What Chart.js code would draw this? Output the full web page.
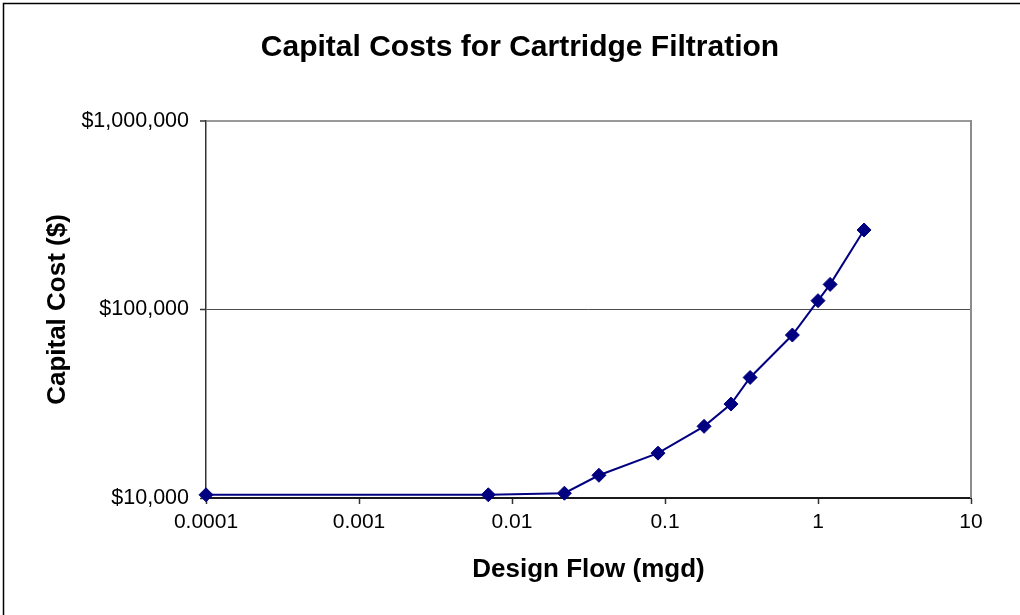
<!DOCTYPE html>
<html>
<head>
<meta charset="utf-8">
<title>Capital Costs for Cartridge Filtration</title>
<script src="https://cdn.jsdelivr.net/npm/chart.js@4/dist/chart.umd.min.js"></script>
<style>
  html, body { margin: 0; padding: 0; background: #ffffff; }
  #wrap { position: relative; width: 1020px; height: 615px; }
</style>
</head>
<body>
<div id="wrap"><canvas id="chart" width="1020" height="615"></canvas></div>
<script>
// Design flow (mgd) and the matching capital cost ($)
const flowMgd = [0.0001, 0.007, 0.022, 0.037, 0.09, 0.18, 0.27, 0.36, 0.68, 1.0, 1.2, 2.0];
const capitalCost = [10400, 10400, 10600, 13200, 17300, 24000, 31500, 43600, 73200, 111400, 135900, 264100];

// Axis tick positions and their labels
const xTickValues = [0.0001, 0.001, 0.01, 0.1, 1, 10];
const xTickLabels = ['0.0001', '0.001', '0.01', '0.1', '1', '10'];
const yTickValues = [10000, 100000, 1000000];
const yTickLabels = ['$10,000', '$100,000', '$1,000,000'];

const FONT = "'Liberation Sans', Arial, sans-serif";
const NAVY = '#000080';

// Outer chart border plus the grey right edge of the plot frame
const framePlugin = {
  id: 'frame',
  afterDraw(chart) {
    const { ctx, chartArea: a } = chart;
    ctx.save();
    ctx.strokeStyle = '#8c8c8c';
    ctx.lineWidth = 2;
    ctx.beginPath();
    ctx.moveTo(a.right, a.top - 1);
    ctx.lineTo(a.right, a.bottom);
    ctx.stroke();
    ctx.strokeStyle = '#000000';
    ctx.lineWidth = 1.5;
    ctx.beginPath();
    ctx.moveTo(3.5, chart.height);
    ctx.lineTo(3.5, 3.5);
    ctx.lineTo(chart.width, 3.5);
    ctx.stroke();
    ctx.restore();
  }
};

new Chart(document.getElementById('chart'), {
  type: 'scatter',
  data: {
    datasets: [{
      data: flowMgd.map((x, i) => ({ x: x, y: capitalCost[i] })),
      showLine: true,
      borderColor: NAVY,
      borderWidth: 2,
      pointStyle: 'rectRot',
      pointRadius: 7,
      pointBackgroundColor: NAVY,
      pointBorderColor: NAVY,
      pointBorderWidth: 1,
      clip: false
    }]
  },
  options: {
    responsive: false,
    animation: false,
    layout: { padding: { left: 20, right: 0, top: 0, bottom: 0 } },
    plugins: {
      legend: { display: false },
      tooltip: { enabled: false },
      title: {
        display: true,
        text: 'Capital Costs for Cartridge Filtration',
        color: '#000000',
        font: { family: FONT, size: 30, weight: 'bold', lineHeight: 1.2 },
        padding: { top: 30, bottom: 55 }
      }
    },
    scales: {
      x: {
        type: 'logarithmic',
        min: 0.0001,
        max: 10,
        afterBuildTicks: s => { s.ticks = xTickValues.map(v => ({ value: v })); },
        afterFit: s => { s.height = 117; },
        ticks: {
          color: '#000000',
          font: { family: FONT, size: 21 },
          padding: 6,
          maxRotation: 0,
          autoSkip: false,
          callback: (v) => xTickLabels[xTickValues.indexOf(v)]
        },
        grid: {
          drawOnChartArea: false,
          drawTicks: true,
          tickLength: 6,
          tickColor: '#333333',
          tickWidth: 1.5
        },
        border: { display: true, color: '#1a1a1a', width: 2 },
        title: {
          display: true,
          text: 'Design Flow (mgd)',
          color: '#000000',
          font: { family: FONT, size: 26, weight: 'bold', lineHeight: 1.2 },
          padding: { top: 0, bottom: 30 }
        }
      },
      y: {
        type: 'logarithmic',
        min: 10000,
        max: 1000000,
        afterBuildTicks: s => { s.ticks = yTickValues.map(v => ({ value: v })); },
        afterFit: s => { s.width = 186; },
        ticks: {
          color: '#000000',
          font: { family: FONT, size: 21.5 },
          padding: 11,
          autoSkip: false,
          callback: (v) => yTickLabels[yTickValues.indexOf(v)]
        },
        grid: {
          drawOnChartArea: true,
          drawTicks: true,
          tickLength: 6,
          tickColor: '#333333',
          tickWidth: 1.5,
          color: c => (c.tick && c.tick.value === 1000000) ? '#999999' : (c.tick && c.tick.value === 100000 ? '#4d4d4d' : 'rgba(0,0,0,0)'),
          lineWidth: c => (c.tick && c.tick.value === 1000000) ? 2 : 1
        },
        border: { display: true, color: '#333333', width: 1.5 },
        title: {
          display: true,
          text: 'Capital Cost ($)',
          color: '#000000',
          font: { family: FONT, size: 26, weight: 'bold', lineHeight: 1.2 },
          padding: { top: 22, bottom: 0 }
        }
      },
      // empty right-hand strip that sets the plot's right margin
      yRight: {
        type: 'linear',
        position: 'right',
        display: true,
        afterFit: s => { s.width = 49; },
        ticks: { display: false },
        grid: { display: false, drawTicks: false },
        border: { display: false }
      }
    }
  },
  plugins: [framePlugin]
});
</script>
</body>
</html>
